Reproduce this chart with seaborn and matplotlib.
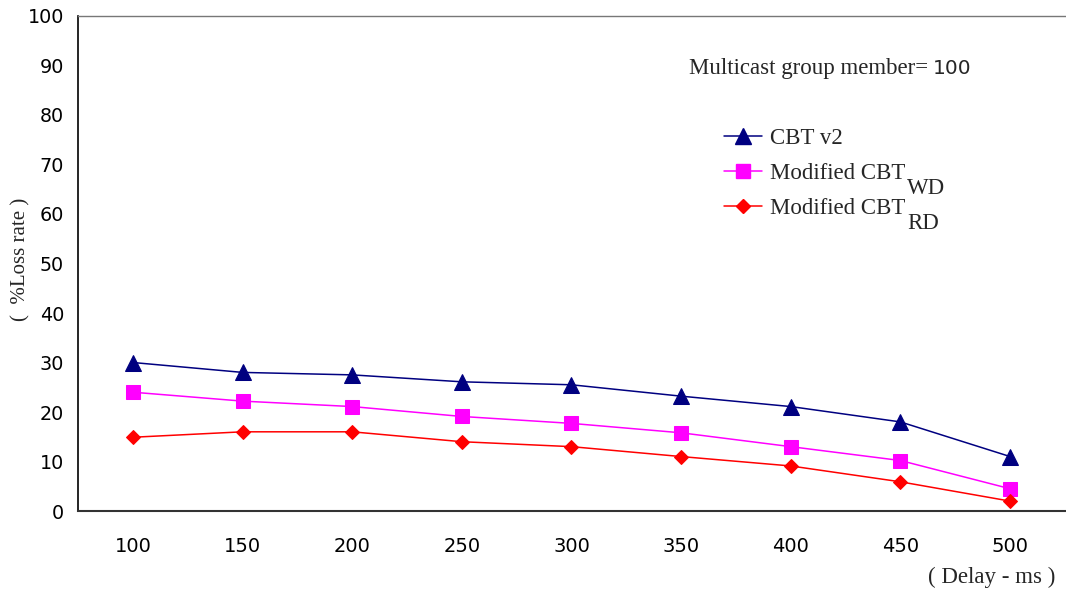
import matplotlib
matplotlib.use("Agg")
import matplotlib.pyplot as plt
from matplotlib.ticker import FixedLocator
import numpy as np
import pandas as pd
import seaborn as sns

# Delay values (ms) and loss rates (%) for each protocol variant
delays = [100, 150, 200, 250, 300, 350, 400, 450, 500]
cbt_v2 = [30.0, 28.0, 27.5, 26.1, 25.5, 23.2, 21.1, 18.0, 11.0]
modified_wd = [24.0, 22.2, 21.1, 19.1, 17.7, 15.8, 13.0, 10.2, 4.5]
modified_rd = [14.9, 16.0, 16.0, 14.0, 13.0, 11.0, 9.1, 5.9, 2.0]
series_names = ["CBT v2", "Modified CBT WD", "Modified CBT RD"]

df = pd.concat([
    pd.DataFrame({"delay": delays, "loss": vals, "series": name})
    for name, vals in zip(series_names, [cbt_v2, modified_wd, modified_rd])
])

sns.set_theme(style="white")
plt.rcParams["font.family"] = ["DejaVu Sans"]

fig = plt.figure(figsize=(10.66, 5.92), dpi=100)
ax = fig.add_axes([0.0732, 0.1368, 0.9258, 0.8362])

palette = {"CBT v2": "#000080", "Modified CBT WD": "#FF00FF", "Modified CBT RD": "#FF0000"}
markers = {"CBT v2": "^", "Modified CBT WD": "s", "Modified CBT RD": "D"}
sizes = {"CBT v2": 11.5, "Modified CBT WD": 10.5, "Modified CBT RD": 7.6}

for name in series_names:
    sns.lineplot(data=df[df["series"] == name], x="delay", y="loss",
                 color=palette[name], marker=markers[name],
                 markersize=sizes[name], markeredgecolor=palette[name],
                 linewidth=1.1, ax=ax, legend=False)

ax.set_xlim(75, 525)
ax.set_ylim(0, 100)
ax.set_yticks(np.arange(0, 101, 10))
ax.set_xticks(delays)
ax.xaxis.set_minor_locator(FixedLocator(np.arange(75, 526, 50)))
ax.tick_params(axis="x", which="major", length=0, pad=19, labelsize=14)
ax.tick_params(axis="x", which="minor", length=7, width=1, color="#555555", direction="out")
ax.tick_params(axis="y", which="major", length=6, width=1, color="#333333",
               direction="out", pad=4, labelsize=13.8)
for lbl in ax.get_xticklabels() + ax.get_yticklabels():
    lbl.set_color("black")

ax.set_xlabel("")
ax.set_ylabel("")
ax.spines["left"].set_color("black")
ax.spines["left"].set_linewidth(1.2)
ax.spines["bottom"].set_color("#333333")
ax.spines["bottom"].set_linewidth(1.5)
ax.spines["top"].set_color("#777777")
ax.spines["top"].set_linewidth(1.0)
ax.spines["right"].set_visible(False)

serif = ["Liberation Serif", "DejaVu Serif"]

fig.text(0.0197, 0.5625, "(  %Loss rate )", rotation=90, ha="center", va="center",
         fontsize=15, family=serif)
fig.text(0.930, 0.024, "( Delay - ms )", ha="center", va="center",
         fontsize=16.5, family=serif)

fig.text(0.646, 0.884, "Multicast group member=", ha="left", va="center",
         fontsize=16.5, family=serif)
fig.text(0.875, 0.884, "100", ha="left", va="center", fontsize=14.5)

# legend drawn from the same styles as the lines
handles = [
    plt.Line2D([], [], color=palette[n], marker=markers[n], markersize=sizes[n],
               markeredgecolor=palette[n], linewidth=1.1)
    for n in series_names
]
ax.legend(handles, ["CBT v2", "Modified CBT", "Modified CBT"],
          loc="upper left", bbox_to_anchor=(0.655, 0.773), frameon=False,
          prop={"family": serif, "size": 16.5}, handlelength=1.65,
          handletextpad=0.35, labelspacing=0.6, borderaxespad=0, borderpad=0)
fig.text(0.851, 0.681, "WD", ha="left", va="center", fontsize=16.5, family=serif)
fig.text(0.851, 0.623, "RD", ha="left", va="center", fontsize=16.5, family=serif)

fig.savefig("out.png", dpi=100)
